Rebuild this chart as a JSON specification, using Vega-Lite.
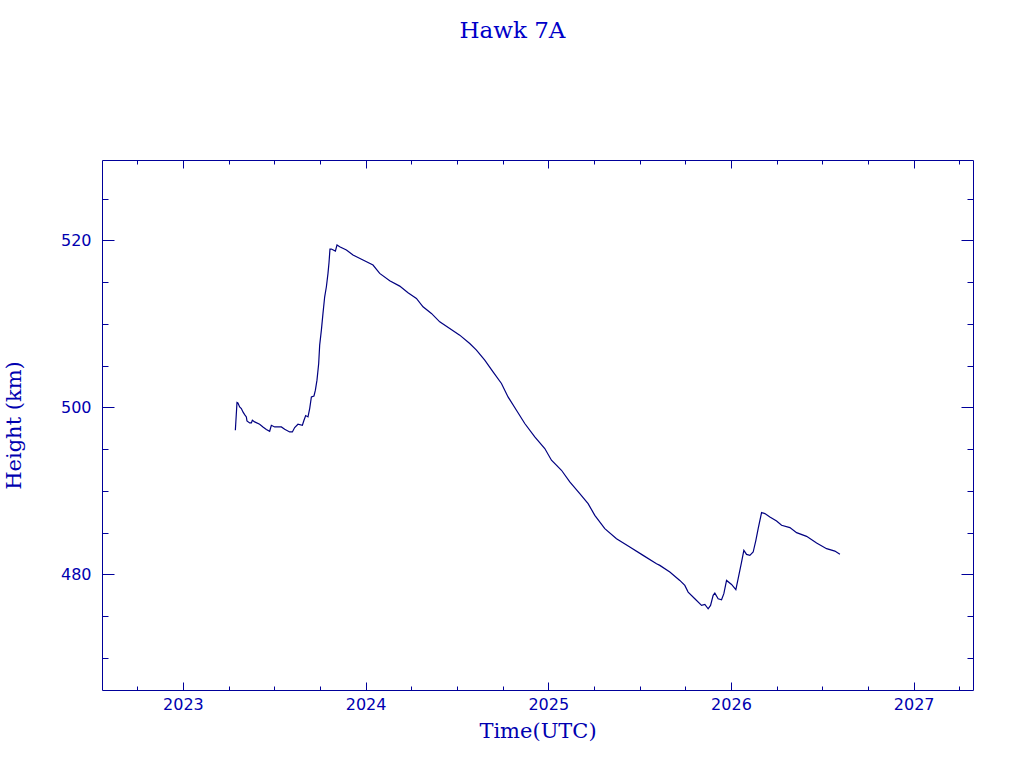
{
  "$schema": "https://vega.github.io/schema/vega-lite/v6.json",
  "autosize": {"type": "none"},
  "padding": {"left": 102, "top": 160, "right": 51, "bottom": 78},
  "width": 871,
  "height": 530,
  "background": "white",
  "title": {
    "text": "Hawk 7A",
    "font": "DejaVu Serif",
    "fontSize": 23,
    "fontWeight": "normal",
    "color": "#0000C8",
    "anchor": "middle",
    "baseline": "alphabetic",
    "dx": -25,
    "offset": 99
  },
  "config": {
    "view": {"stroke": null},
    "axis": {
      "grid": false,
      "domainColor": "#00009A",
      "tickColor": "#00009A",
      "domainWidth": 1,
      "tickWidth": 1,
      "labelColor": "#0000B0",
      "labelFont": "DejaVu Sans",
      "labelFontSize": 16,
      "titleColor": "#0000B0",
      "titleFont": "DejaVu Serif",
      "titleFontSize": 21,
      "titleFontWeight": "normal",
      "labelOverlap": false,
      "labelFlush": false
    }
  },
  "data": {
    "values": [
      {"t": 2023.287, "h": 497.26},
      {"t": 2023.296, "h": 500.58},
      {"t": 2023.301, "h": 500.53},
      {"t": 2023.3105, "h": 500.06},
      {"t": 2023.3198, "h": 499.86},
      {"t": 2023.3286, "h": 499.46},
      {"t": 2023.3379, "h": 499.14},
      {"t": 2023.3472, "h": 498.86},
      {"t": 2023.3505, "h": 498.38},
      {"t": 2023.3653, "h": 498.14},
      {"t": 2023.3746, "h": 498.14},
      {"t": 2023.3801, "h": 498.46},
      {"t": 2023.3927, "h": 498.26},
      {"t": 2023.42, "h": 497.98},
      {"t": 2023.4381, "h": 497.66},
      {"t": 2023.4567, "h": 497.35},
      {"t": 2023.4748, "h": 497.14},
      {"t": 2023.4841, "h": 497.86},
      {"t": 2023.5022, "h": 497.66},
      {"t": 2023.5389, "h": 497.66},
      {"t": 2023.557, "h": 497.38},
      {"t": 2023.5843, "h": 497.06},
      {"t": 2023.5991, "h": 497.06},
      {"t": 2023.6117, "h": 497.59},
      {"t": 2023.6298, "h": 497.98},
      {"t": 2023.6539, "h": 497.86},
      {"t": 2023.6627, "h": 498.46},
      {"t": 2023.672, "h": 499.02},
      {"t": 2023.6846, "h": 498.86},
      {"t": 2023.6939, "h": 499.86},
      {"t": 2023.7032, "h": 501.25},
      {"t": 2023.7174, "h": 501.37},
      {"t": 2023.7251, "h": 502.06},
      {"t": 2023.7338, "h": 503.26},
      {"t": 2023.7432, "h": 505.26},
      {"t": 2023.7486, "h": 507.45},
      {"t": 2023.7579, "h": 509.25},
      {"t": 2023.7667, "h": 511.25},
      {"t": 2023.776, "h": 513.24},
      {"t": 2023.7853, "h": 514.44},
      {"t": 2023.7941, "h": 516.04},
      {"t": 2023.7996, "h": 517.32},
      {"t": 2023.805, "h": 518.96},
      {"t": 2023.8127, "h": 518.96},
      {"t": 2023.8346, "h": 518.72},
      {"t": 2023.8434, "h": 519.44},
      {"t": 2023.8582, "h": 519.23},
      {"t": 2023.8949, "h": 518.84},
      {"t": 2023.931, "h": 518.24},
      {"t": 2023.9858, "h": 517.64},
      {"t": 2024.0405, "h": 517.04},
      {"t": 2024.0772, "h": 516.04},
      {"t": 2024.132, "h": 515.16},
      {"t": 2024.1867, "h": 514.52},
      {"t": 2024.2322, "h": 513.72},
      {"t": 2024.2782, "h": 513.05},
      {"t": 2024.3143, "h": 512.04},
      {"t": 2024.3603, "h": 511.25},
      {"t": 2024.4058, "h": 510.24},
      {"t": 2024.4606, "h": 509.45},
      {"t": 2024.5153, "h": 508.65},
      {"t": 2024.5701, "h": 507.65},
      {"t": 2024.6068, "h": 506.85},
      {"t": 2024.6522, "h": 505.65},
      {"t": 2024.6977, "h": 504.25},
      {"t": 2024.7437, "h": 502.86},
      {"t": 2024.7798, "h": 501.25},
      {"t": 2024.8258, "h": 499.66},
      {"t": 2024.8713, "h": 498.07},
      {"t": 2024.9261, "h": 496.46},
      {"t": 2024.9809, "h": 495.07},
      {"t": 2025.0175, "h": 493.67},
      {"t": 2025.0723, "h": 492.47},
      {"t": 2025.1177, "h": 491.07},
      {"t": 2025.1725, "h": 489.68},
      {"t": 2025.218, "h": 488.48},
      {"t": 2025.2547, "h": 487.07},
      {"t": 2025.3094, "h": 485.48},
      {"t": 2025.3735, "h": 484.28},
      {"t": 2025.4463, "h": 483.27},
      {"t": 2025.5192, "h": 482.28},
      {"t": 2025.5926, "h": 481.28},
      {"t": 2025.6106, "h": 481.08},
      {"t": 2025.6654, "h": 480.28},
      {"t": 2025.7201, "h": 479.28},
      {"t": 2025.7475, "h": 478.68},
      {"t": 2025.7656, "h": 477.88},
      {"t": 2025.8023, "h": 477.09},
      {"t": 2025.839, "h": 476.29},
      {"t": 2025.8571, "h": 476.41},
      {"t": 2025.8751, "h": 475.89},
      {"t": 2025.8883, "h": 476.29},
      {"t": 2025.9025, "h": 477.49},
      {"t": 2025.9118, "h": 477.76},
      {"t": 2025.9299, "h": 477.09},
      {"t": 2025.9485, "h": 476.97},
      {"t": 2025.9611, "h": 477.69},
      {"t": 2025.9759, "h": 479.28},
      {"t": 2026.0033, "h": 478.8},
      {"t": 2026.0268, "h": 478.17},
      {"t": 2026.0394, "h": 479.49},
      {"t": 2026.058, "h": 481.48},
      {"t": 2026.0706, "h": 482.88},
      {"t": 2026.0854, "h": 482.4},
      {"t": 2026.1035, "h": 482.28},
      {"t": 2026.1216, "h": 482.68},
      {"t": 2026.1364, "h": 484.08},
      {"t": 2026.149, "h": 485.48},
      {"t": 2026.1676, "h": 487.4},
      {"t": 2026.1857, "h": 487.28},
      {"t": 2026.2131, "h": 486.87},
      {"t": 2026.2498, "h": 486.39},
      {"t": 2026.2771, "h": 485.88},
      {"t": 2026.3226, "h": 485.6},
      {"t": 2026.3593, "h": 485.0},
      {"t": 2026.414, "h": 484.56},
      {"t": 2026.4688, "h": 483.75},
      {"t": 2026.5236, "h": 483.08},
      {"t": 2026.569, "h": 482.79},
      {"t": 2026.5964, "h": 482.4}
    ]
  },
  "layer": [
    {
      "mark": {"type": "line", "color": "#000080", "strokeWidth": 1.2, "interpolate": "linear"},
      "encoding": {
        "x": {
          "field": "t",
          "type": "quantitative",
          "title": "Time(UTC)",
          "scale": {"domain": [2022.557, 2027.325], "nice": false, "zero": false},
          "axis": {
            "orient": "bottom",
            "values": [2022.75, 2023, 2023.25, 2023.5, 2023.75, 2024, 2024.25, 2024.5, 2024.75, 2025, 2025.25, 2025.5, 2025.75, 2026, 2026.25, 2026.5, 2026.75, 2027, 2027.25],
            "labelExpr": "datum.value % 1 == 0 ? format(datum.value, 'd') : ''",
            "tickSize": {"condition": {"test": "datum.value % 1 == 0", "value": -8}, "value": -4},
            "labelPadding": 14,
            "titlePadding": 4
          }
        },
        "y": {
          "field": "h",
          "type": "quantitative",
          "title": "Height (km)",
          "scale": {"domain": [466.16, 529.62], "nice": false, "zero": false},
          "axis": {
            "orient": "left",
            "values": [470, 475, 480, 485, 490, 495, 500, 505, 510, 515, 520, 525],
            "labelExpr": "datum.value % 20 == 0 ? format(datum.value, 'd') : ''",
            "tickSize": {"condition": {"test": "datum.value % 20 == 0", "value": -12}, "value": -6},
            "labelPadding": 23,
            "titlePadding": 36
          }
        }
      }
    },
    {
      "mark": {"type": "line", "opacity": 0},
      "encoding": {
        "x": {
          "field": "t",
          "type": "quantitative",
          "axis": {
            "orient": "top",
            "title": null,
            "labels": false,
            "values": [2022.75, 2023, 2023.25, 2023.5, 2023.75, 2024, 2024.25, 2024.5, 2024.75, 2025, 2025.25, 2025.5, 2025.75, 2026, 2026.25, 2026.5, 2026.75, 2027, 2027.25],
            "tickSize": {"condition": {"test": "datum.value % 1 == 0", "value": -8}, "value": -4}
          }
        },
        "y": {
          "field": "h",
          "type": "quantitative",
          "axis": {
            "orient": "right",
            "title": null,
            "labels": false,
            "values": [470, 475, 480, 485, 490, 495, 500, 505, 510, 515, 520, 525],
            "tickSize": {"condition": {"test": "datum.value % 20 == 0", "value": -12}, "value": -6}
          }
        }
      }
    }
  ],
  "resolve": {"axis": {"x": "independent", "y": "independent"}}
}
